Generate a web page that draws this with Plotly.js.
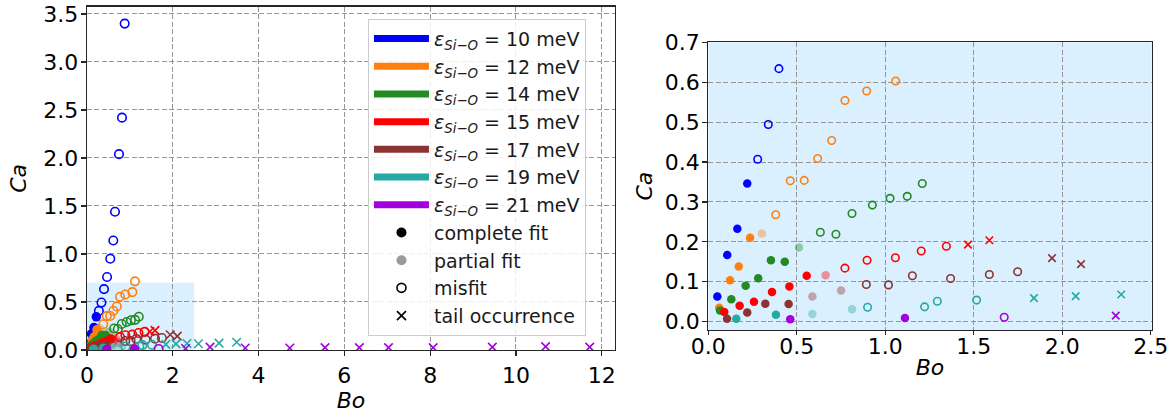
<!DOCTYPE html>
<html>
<head>
<meta charset="utf-8">
<script src="https://cdn.plot.ly/plotly-3.0.1.min.js"></script>
<style>html,body{margin:0;padding:0;background:#fff;}#chart{width:1176px;height:416px;}</style>
</head>
<body>
<div id="chart"></div>
<script>
// fit status codes: c = complete fit, p = partial fit, m = misfit, t = tail occurrence
const energies = ['10', '12', '14', '15', '17', '19', '21'];

const bo10 = [0.051, 0.107, 0.164, 0.220, 0.279, 0.339, 0.399, 0.470, 0.545, 0.615, 0.655, 0.748, 0.818, 0.880];
const ca10 = [0.063, 0.167, 0.233, 0.346, 0.407, 0.494, 0.634, 0.760, 0.951, 1.140, 1.440, 2.040, 2.420, 3.400];
const fit10 = ['c', 'c', 'c', 'c', 'm', 'm', 'm', 'm', 'm', 'm', 'm', 'm', 'm', 'm'];

const bo12 = [0.062, 0.123, 0.172, 0.236, 0.303, 0.381, 0.463, 0.542, 0.618, 0.697, 0.772, 0.895, 1.059, 1.120];
const ca12 = [0.035, 0.104, 0.138, 0.210, 0.221, 0.268, 0.353, 0.354, 0.409, 0.454, 0.554, 0.578, 0.603, 0.715];
const fit12 = ['c', 'c', 'c', 'c', 'p', 'm', 'm', 'm', 'm', 'm', 'm', 'm', 'm', 'm'];

const bo14 = [0.066, 0.130, 0.211, 0.282, 0.354, 0.432, 0.512, 0.633, 0.721, 0.812, 0.927, 1.027, 1.124, 1.209];
const ca14 = [0.028, 0.056, 0.090, 0.109, 0.154, 0.150, 0.186, 0.224, 0.219, 0.271, 0.292, 0.309, 0.314, 0.346];
const fit14 = ['c', 'c', 'c', 'c', 'c', 'c', 'p', 'm', 'm', 'm', 'm', 'm', 'm', 'm'];

const bo15 = [0.090, 0.177, 0.258, 0.360, 0.458, 0.556, 0.663, 0.772, 0.897, 1.057, 1.203, 1.345, 1.467, 1.588];
const ca15 = [0.024, 0.040, 0.050, 0.074, 0.088, 0.115, 0.116, 0.134, 0.154, 0.160, 0.177, 0.189, 0.193, 0.204];
const fit15 = ['c', 'c', 'c', 'c', 'c', 'c', 'p', 'm', 'm', 'm', 'm', 'm', 't', 't'];

const bo17 = [0.106, 0.220, 0.322, 0.454, 0.588, 0.750, 0.893, 1.018, 1.153, 1.369, 1.588, 1.748, 1.942, 2.106];
const ca17 = [0.007, 0.023, 0.045, 0.044, 0.063, 0.078, 0.093, 0.092, 0.115, 0.108, 0.118, 0.125, 0.159, 0.144];
const fit17 = ['c', 'c', 'c', 'c', 'p', 'p', 'm', 'm', 'm', 'm', 'm', 'm', 't', 't'];

const bo19 = [0.158, 0.382, 0.588, 0.812, 0.900, 1.222, 1.294, 1.516, 1.840, 2.076, 2.333, 2.600, 3.080, 3.490];
const ca19 = [0.007, 0.017, 0.019, 0.031, 0.036, 0.037, 0.051, 0.054, 0.059, 0.064, 0.068, 0.065, 0.072, 0.080];
const fit19 = ['c', 'c', 'p', 'p', 'm', 'm', 'm', 'm', 't', 't', 't', 't', 't', 't'];

const bo21 = [0.463, 1.111, 1.672, 2.302, 2.870, 3.690, 4.730, 5.550, 6.350, 7.030, 8.070, 9.450, 10.690, 11.720];
const ca21 = [0.006, 0.009, 0.011, 0.015, 0.030, 0.020, 0.020, 0.025, 0.025, 0.025, 0.025, 0.030, 0.035, 0.030];
const fit21 = ['c', 'c', 'm', 't', 't', 't', 't', 't', 't', 't', 't', 't', 't', 't'];

const fitLabels = ['complete fit', 'partial fit', 'misfit', 'tail occurrence'];
const xTicksLeft = [0, 2, 4, 6, 8, 10, 12];
const yTicksLeft = [0, 0.5, 1.0, 1.5, 2.0, 2.5, 3.0, 3.5];
const xTicksRight = [0, 0.5, 1.0, 1.5, 2.0, 2.5];
const yTicksRight = [0, 0.1, 0.2, 0.3, 0.4, 0.5, 0.6, 0.7];

// styles
const colors = ['#0000ff', '#ff7f0e', '#228b22', '#ff0000', '#8b3333', '#26a9a4', '#a300e0'];
const BOS = [bo10, bo12, bo14, bo15, bo17, bo19, bo21];
const CAS = [ca10, ca12, ca14, ca15, ca17, ca19, ca21];
const FITS = [fit10, fit12, fit14, fit15, fit17, fit19, fit21];
const FONT = 'DejaVu Sans, sans-serif';
const shade = 'rgb(219,240,254)';

function markerFor(code, col, size) {
  if (code === 'c') return {symbol: 'circle', size: size, color: col, line: {width: 0}};
  if (code === 'p') return {symbol: 'circle', size: size, color: col, opacity: 0.4, line: {width: 0}};
  if (code === 'm') return {symbol: 'circle-open', size: size - 1, color: col, line: {color: col, width: 1.6}};
  return {symbol: 'x-thin-open', size: size - 1, color: col, line: {color: col, width: 1.6}};
}

const traces = [];
const panels = [{xa: 'x', ya: 'y', size: 9.5}, {xa: 'x2', ya: 'y2', size: 8.5}];
panels.forEach(p => {
  BOS.forEach((bo, i) => {
    ['c', 'p', 'm', 't'].forEach(code => {
      const xs = [], ys = [];
      bo.forEach((b, k) => { if (FITS[i][k] === code) { xs.push(b); ys.push(CAS[i][k]); } });
      if (!xs.length) return;
      traces.push({
        type: 'scatter', mode: 'markers', x: xs, y: ys, xaxis: p.xa, yaxis: p.ya,
        marker: markerFor(code, colors[i], p.size), showlegend: false, hoverinfo: 'x+y'
      });
    });
  });
});

// legend entries
energies.forEach((e, i) => {
  traces.push({
    type: 'scatter', mode: 'lines', x: [null], y: [null], xaxis: 'x', yaxis: 'y',
    line: {color: colors[i], width: 7},
    name: '<span style="font-style:italic;font-size:19px">ε</span><sub style="font-style:italic;font-size:13px">Si−O</sub> = ' + e + ' meV',
    showlegend: true
  });
});
['c', 'p', 'm', 't'].forEach((code, j) => {
  const m = code === 'p' ? {symbol: 'circle', size: 10, color: '#9a9a9a'} : markerFor(code, '#000000', 10);
  traces.push({
    type: 'scatter', mode: 'markers', x: [null], y: [null], xaxis: 'x', yaxis: 'y',
    marker: m, name: fitLabels[j], showlegend: true
  });
});

const axisCommon = {
  showline: true, mirror: true, linecolor: '#262626', linewidth: 1.2,
  ticks: 'outside', ticklen: 5, tickwidth: 1.2, tickcolor: '#262626',
  showgrid: true, gridcolor: 'rgb(150,150,150)', gridwidth: 1, griddash: '5px,2.5px',
  zeroline: false, tickfont: {family: FONT, size: 22, color: '#000'}
};

const layout = {
  width: 1176, height: 416,
  margin: {l: 0, r: 0, t: 0, b: 0},
  paper_bgcolor: '#ffffff', plot_bgcolor: 'rgba(0,0,0,0)',
  font: {family: FONT, color: '#000'},
  showlegend: true,
  xaxis: Object.assign({}, axisCommon, {
    domain: [0.0739, 0.5230], range: [0, 12.31], tickvals: xTicksLeft, anchor: 'y',
    title: {text: '<i>Bo</i>', font: {family: FONT, size: 22}, standoff: 6}
  }),
  yaxis: Object.assign({}, axisCommon, {
    domain: [0.1587, 0.9839], range: [0, 3.576], tickvals: yTicksLeft, tickformat: '.1f', anchor: 'x',
    ticklabelstandoff: -2,
    title: {text: '<i>Ca</i>', font: {family: FONT, size: 22}, standoff: 10}
  }),
  xaxis2: Object.assign({}, axisCommon, {
    domain: [0.6023, 0.9793], range: [0, 2.505], tickvals: xTicksRight, tickformat: '.1f', anchor: 'y2',
    ticklen: 4, ticklabelstandoff: -8,
    title: {text: '<i>Bo</i>', font: {family: FONT, size: 22}, standoff: 2}
  }),
  yaxis2: Object.assign({}, axisCommon, {
    domain: [0.2067, 0.8983], range: [-0.021, 0.7], tickvals: yTicksRight, tickformat: '.1f', anchor: 'x2',
    ticklabelstandoff: -2,
    title: {text: '<i>Ca</i>', font: {family: FONT, size: 22}, standoff: 6}
  }),
  shapes: [
    {type: 'rect', xref: 'x', yref: 'y', x0: 0, x1: 2.5, y0: 0, y1: 0.7,
     fillcolor: shade, line: {width: 0}, layer: 'below'},
    {type: 'rect', xref: 'x2 domain', yref: 'y2 domain', x0: 0, x1: 1, y0: 0, y1: 1,
     fillcolor: shade, line: {width: 0}, layer: 'below'}
  ],
  legend: {
    x: 0.3129, y: 0.955, xanchor: 'left', yanchor: 'top',
    bgcolor: 'rgba(255,255,255,0.85)', bordercolor: '#cccccc', borderwidth: 1,
    font: {family: FONT, size: 19, color: '#1a1a1a'}, itemwidth: 55
  }
};

Plotly.newPlot('chart', traces, layout, {staticPlot: true, displayModeBar: false});
</script>
</body>
</html>
